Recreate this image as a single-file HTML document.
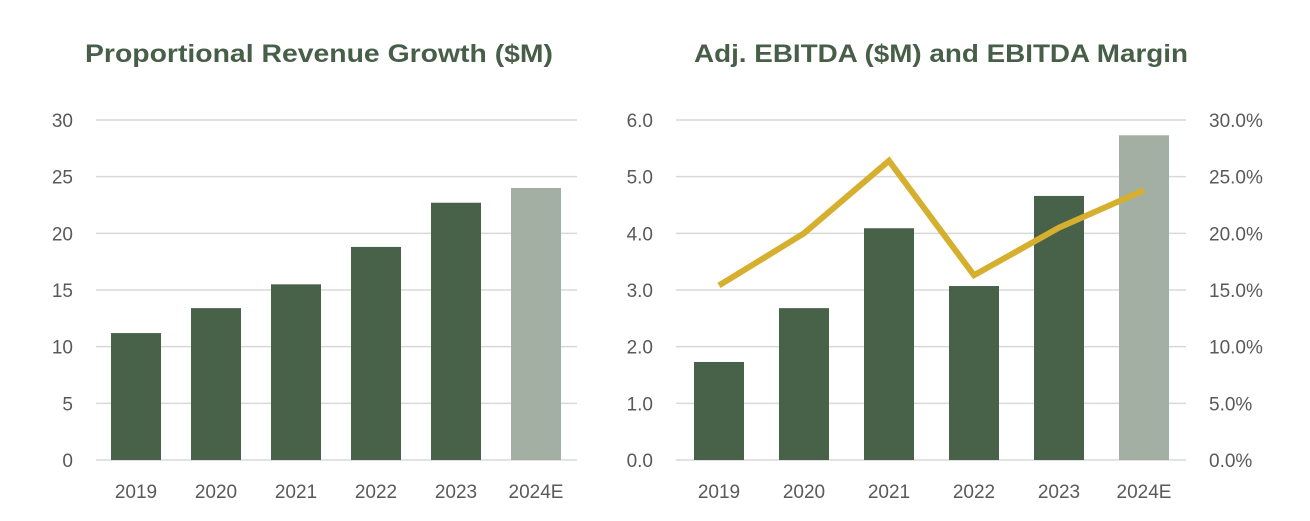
<!DOCTYPE html>
<html><head><meta charset="utf-8"><style>
html,body{margin:0;padding:0;background:#fff;}
svg{display:block;font-family:"Liberation Sans",sans-serif;}
</style></head><body>
<svg id="c" width="1310" height="521" viewBox="0 0 1310 521">
<text x="319" y="62" text-anchor="middle" font-size="25" font-weight="bold" fill="#475e48" textLength="468" lengthAdjust="spacingAndGlyphs">Proportional Revenue Growth ($M)</text>
<text x="941" y="62" text-anchor="middle" font-size="25" font-weight="bold" fill="#475e48" textLength="494" lengthAdjust="spacingAndGlyphs">Adj. EBITDA ($M) and EBITDA Margin</text>
<g id="left"></g><g id="right"></g>
</svg>
<script>
const categories=["2019","2020","2021","2022","2023","2024E"];
const revenue=[11.2,13.4,15.5,18.8,22.7,24.0];
const revTicks=["0","5","10","15","20","25","30"];
const ebitda=[1.73,2.68,4.09,3.07,4.66,5.73];
const margin=[15.4,20.0,26.4,16.3,20.5,23.8];
const ebitdaTicks=["0.0","1.0","2.0","3.0","4.0","5.0","6.0"];
const marginTicks=["0.0%","5.0%","10.0%","15.0%","20.0%","25.0%","30.0%"];
const NS="http://www.w3.org/2000/svg";
function mk(p,t,a){const e=document.createElementNS(NS,t);for(const k in a)e.setAttribute(k,a[k]);p.appendChild(e);return e;}
const y0=460,y1=120;
// left
const L=document.getElementById('left');
const ly=v=>y0-(v/30)*(y0-y1);
const lx=i=>136+i*80;
revTicks.forEach((t,i)=>{const v=i*5;
 const g=mk(L,'line',{x1:96,x2:577,y1:ly(v),y2:ly(v),stroke:'#d9d9d9','stroke-width':1.5});
 
 const tx=mk(L,'text',{x:73,y:ly(v)+7,'text-anchor':'end','font-size':19,fill:'#595959'});tx.textContent=t;
 });
categories.forEach((c,i)=>{
 const r=mk(L,'rect',{x:lx(i)-25,y:ly(revenue[i]),width:50,height:y0-ly(revenue[i]),fill:i==5?'#a3afa3':'#476249'});
 
 const t=mk(L,'text',{x:lx(i),y:498,'text-anchor':'middle','font-size':19,fill:'#595959'});t.textContent=c;
 });
// right
const R=document.getElementById('right');
const ry=v=>y0-(v/6)*(y0-y1);
const my=v=>y0-(v/30)*(y0-y1);
const rx=i=>719+i*85;
ebitdaTicks.forEach((t,i)=>{
 const g=mk(R,'line',{x1:676,x2:1186,y1:ry(i),y2:ry(i),stroke:'#d9d9d9','stroke-width':1.5});
 
 const tx=mk(R,'text',{x:653,y:ry(i)+7,'text-anchor':'end','font-size':19,fill:'#595959'});tx.textContent=t;
 
 const m=mk(R,'text',{x:1209,y:my(i*5)+7,'font-size':19,fill:'#595959'});m.textContent=marginTicks[i];
 });
categories.forEach((c,i)=>{
 const r=mk(R,'rect',{x:rx(i)-25,y:ry(ebitda[i]),width:50,height:y0-ry(ebitda[i]),fill:i==5?'#a3afa3':'#476249'});
 
 const t=mk(R,'text',{x:rx(i),y:498,'text-anchor':'middle','font-size':19,fill:'#595959'});t.textContent=c;
 });
const pl=mk(R,'polyline',{points:margin.map((v,i)=>rx(i)+','+my(v)).join(' '),fill:'none',stroke:'#d6af2e','stroke-width':6,'stroke-linejoin':'miter'});


</script>
</body></html>
